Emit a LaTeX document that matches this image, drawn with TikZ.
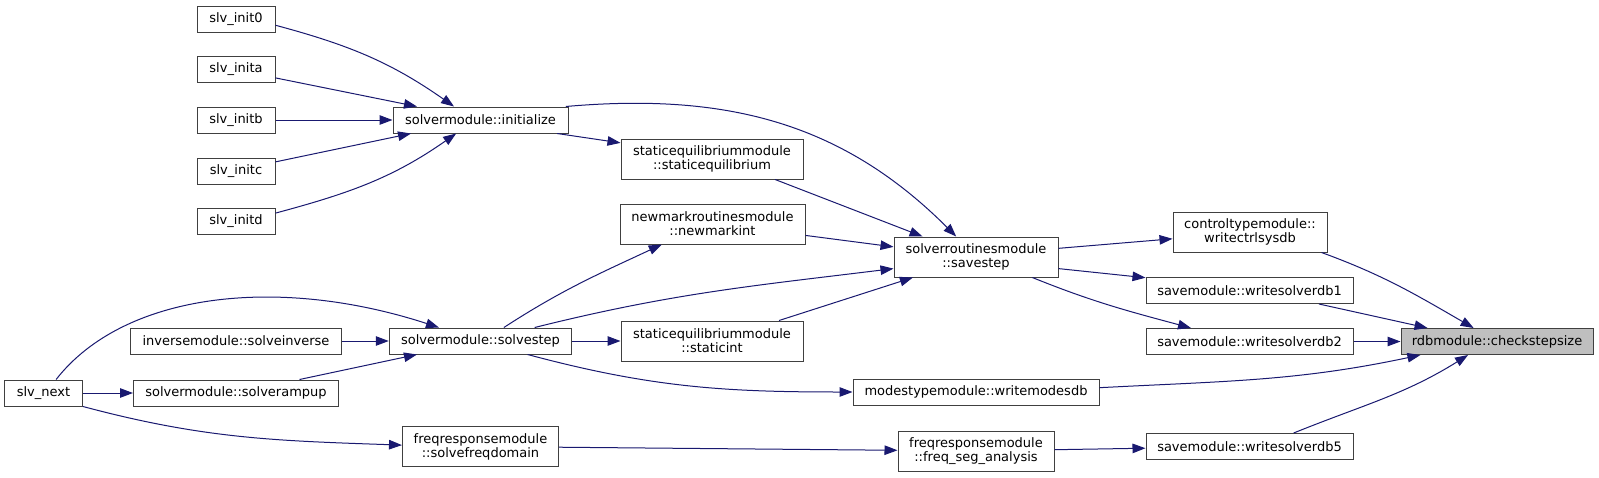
\documentclass[tikz,border=0pt]{standalone}
\usepackage{fontspec}
\usetikzlibrary{arrows.meta}
\newfontfamily\dvsans{DejaVu Sans}
\definecolor{edgeblue}{HTML}{191970}
\definecolor{boxline}{HTML}{404040}
\definecolor{focusfill}{HTML}{BFBFBF}
\begin{document}
\begin{tikzpicture}[x=1pt,y=-1pt,
  fn/.style={draw=boxline,line width=1pt,fill=white,inner sep=0pt,minimum height=26pt,
    align=center,font=\dvsans\fontsize{13}{14}\selectfont},
  fn2/.style={fn,minimum height=40pt},
  call/.style={edgeblue,line width=1pt,-{Triangle[length=13pt,width=9.5pt]}}]
\path[fill=white,use as bounding box] (0,0) rectangle (1599,477);
\node[fn,minimum width=78pt] (init0) at (236,19) {slv\_init0};
\node[fn,minimum width=78pt] (inita) at (236,69.5) {slv\_inita};
\node[fn,minimum width=78pt] (initb) at (236,120) {slv\_initb};
\node[fn,minimum width=78pt] (initc) at (236,171) {slv\_initc};
\node[fn,minimum width=78pt] (initd) at (236,221.5) {slv\_initd};
\node[fn,minimum width=175pt] (initialize) at (480.5,120) {solvermodule::initialize};
\node[fn2,minimum width=182pt] (staticeq) at (712,159) {staticequilibriummodule\\::staticequilibrium};
\node[fn2,minimum width=185pt] (newmark) at (712.5,224) {newmarkroutinesmodule\\::newmarkint};
\node[fn2,minimum width=182pt] (staticint) at (712,341) {staticequilibriummodule\\::staticint};
\node[fn2,minimum width=164pt] (savestep) at (976,257) {solverroutinesmodule\\::savestep};
\node[fn,minimum width=182.5pt] (solvestep) at (480.5,341) {solvermodule::solvestep};
\node[fn,minimum width=211pt] (solveinv) at (236,341) {inversemodule::solveinverse};
\node[fn,minimum width=78pt] (slvnext) at (43.5,393) {slv\_next};
\node[fn,minimum width=205pt] (rampup) at (236,393) {solvermodule::solverampup};
\node[fn2,minimum width=156pt] (freqdom) at (480.5,446.5) {freqresponsemodule\\::solvefreqdomain};
\node[fn,minimum width=246pt] (modesdb) at (976,392) {modestypemodule::writemodesdb};
\node[fn2,minimum width=156pt] (freqseg) at (976,451) {freqresponsemodule\\::freq\_seg\_analysis};
\node[fn2,minimum width=154pt] (ctrlsys) at (1250,232) {controltypemodule::\\writectrlsysdb};
\node[fn,minimum width=207pt] (wsdb1) at (1249.5,290.5) {savemodule::writesolverdb1};
\node[fn,minimum width=207pt] (wsdb2) at (1249.5,341.5) {savemodule::writesolverdb2};
\node[fn,minimum width=207pt] (wsdb5) at (1249.5,446.5) {savemodule::writesolverdb5};
\node[fn,minimum width=192pt,fill=focusfill] (checkstep) at (1497,341.5) {rdbmodule::checkstepsize};
\draw[call] (init0.-9) to[out=-15,in=145] (initialize.153);
\draw[call] (inita.-12) -- (initialize.168);
\draw[call] (initb) -- (initialize);
\draw[call] (initc.13) -- (initialize.-169);
\draw[call] (initd.12) to[out=15,in=-145] (initialize.-151);
\draw[call] (initialize.-10) -- (staticeq.170);
\draw[call] (initialize.9) to[out=5,in=135] (savestep.134);
\draw[call] (staticeq.-18) -- (savestep.159);
\draw[call] (newmark.-7) -- (savestep.173);
\draw[call] (solvestep.30) to[out=33,in=-155] (newmark.-158);
\draw[call] (solvestep.14) to[out=14,in=-173] (savestep.-172);
\draw[call] (solvestep) -- (staticint);
\draw[call] (staticint.17) -- (savestep.-162);
\draw[call] (solvestep.-16) to[out=-15,in=180] (modesdb.west);
\draw[call] (freqdom) -- (freqseg);
\draw[call] (freqseg) -- (wsdb5);
\draw[call] (savestep.6) -- (ctrlsys.-175);
\draw[call] (savestep.-8) -- (wsdb1.173);
\draw[call] (savestep.-20) to[out=-22,in=165] (wsdb2.167);
\draw[call] (ctrlsys.-16) to[out=-20,in=150] (checkstep.150);
\draw[call] (wsdb1.-11) -- (checkstep.169);
\draw[call] (wsdb2) -- (checkstep);
\draw[call] (modesdb.2) to[out=3,in=-168] (checkstep.-170);
\draw[call] (wsdb5.17) to[out=22,in=-148] (checkstep.-155);
\draw[call] (slvnext.47) .. controls +(52:110pt) and +(162:170pt) .. (solvestep.162);
\draw[call] (solveinv) -- (solvestep);
\draw[call] (slvnext) -- (rampup);
\draw[call] (rampup.12) -- (solvestep.-168);
\draw[call] (slvnext.south east) to[out=-15,in=178] (freqdom.179);
\end{tikzpicture}
\end{document}
